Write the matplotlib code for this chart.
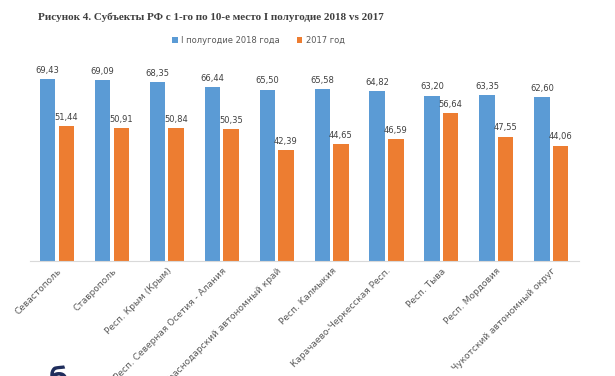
import matplotlib
matplotlib.use("Agg")
import matplotlib.pyplot as plt
import numpy as np

categories = ["Севастополь", "Ставрополь", "Респ. Крым (Крым)",
              "Респ. Северная Осетия - Алания", "Краснодарский автономный край",
              "Респ. Калмыкия", "Карачаево-Черкесская Респ.", "Респ. Тыва",
              "Респ. Мордовия", "Чукотский автономный округ"]
series_2018 = [69.43, 69.09, 68.35, 66.44, 65.50, 65.58, 64.82, 63.20, 63.35, 62.60]
series_2017 = [51.44, 50.91, 50.84, 50.35, 42.39, 44.65, 46.59, 56.64, 47.55, 44.06]
legend_labels = ["I полугодие 2018 года", "2017 год"]
title = "Рисунок 4. Субъекты РФ с 1-го по 10-е место I полугодие 2018 vs 2017"

blue = "#5B9BD5"
orange = "#ED7D31"

fig = plt.figure(figsize=(6.15, 3.76), dpi=100)
ax = fig.add_axes([0.048, 0.306, 0.893, 0.522])
x = np.arange(len(categories))
w = 0.28
b1 = ax.bar(x - 0.17, series_2018, w, color=blue, label=legend_labels[0])
b2 = ax.bar(x + 0.17, series_2017, w, color=orange, label=legend_labels[1])
for bars, vals in ((b1, series_2018), (b2, series_2017)):
    for r, v in zip(bars, vals):
        ax.annotate(f"{v:.2f}".replace(".", ","), (r.get_x() + r.get_width() / 2, v),
                    xytext=(0, 3), textcoords="offset points", ha="center", va="bottom",
                    fontsize=6, color="#404040")
ax.set_xlim(-0.5, len(categories) - 0.5)
ax.set_ylim(0, 75)
ax.set_yticks([])
for s in ("top", "right", "left"):
    ax.spines[s].set_visible(False)
ax.spines["bottom"].set_color("#d9d9d9")
ax.set_xticks(x)
ax.set_xticklabels(categories, rotation=45, ha="right", rotation_mode="anchor",
                   fontsize=6.5, color="#595959")
ax.tick_params(axis="x", length=0, pad=4)

fig.text(0.062, 0.955, title, fontsize=8, fontweight="bold", family="Liberation Serif",
         color="#404040", va="center", ha="left")
fig.legend(handles=[b1, b2], labels=legend_labels, loc="center", bbox_to_anchor=(0.42, 0.893),
           ncol=2, frameon=False, fontsize=6, handlelength=0.7, handleheight=0.7,
           columnspacing=2.0, handletextpad=0.4, labelcolor="#595959")
fig.text(0.08, -0.01, "б", fontsize=20, fontweight="bold", color="#1f2d5c", ha="left", va="center")

fig.savefig("out.png", dpi=100)
